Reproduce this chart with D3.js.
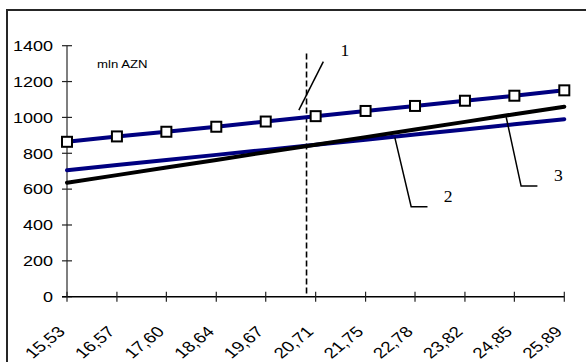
<!DOCTYPE html>
<html>
<head>
<meta charset="utf-8">
<script src="https://cdn.jsdelivr.net/npm/d3@7"></script>
<style>
  html, body { margin: 0; padding: 0; background: #fff; overflow: hidden; }
  svg { display: block; overflow: hidden; }
</style>
</head>
<body>
<div id="chart"></div>
<script>
// x categories (value + printed label)
const xValues = [15.53, 16.57, 17.60, 18.64, 19.67, 20.71, 21.75, 22.78, 23.82, 24.85, 25.89];
const xLabels = ["15,53", "16,57", "17,60", "18,64", "19,67", "20,71", "21,75", "22,78", "23,82", "24,85", "25,89"];
const yTicks = [0, 200, 400, 600, 800, 1000, 1200, 1400];

// series (mln AZN)
const line1 = [864, 894, 920, 948, 977, 1007, 1036, 1064, 1093, 1121, 1151]; // blue with squares
const line2 = [636, 678, 721, 763, 806, 848, 890, 933, 975, 1018, 1060];     // black
const line3 = [705, 734, 762, 791, 819, 848, 876, 905, 933, 962, 990];       // blue

const dashedAt = 20.52;
const dashedTop = 1357;

// callouts: label position and leader polyline, in data units
const callouts = [
  { text: "1", at: [21.32, 1372], path: [[20.87, 1311], [20.36, 1041]] },
  { text: "2", at: [23.47, 558], path: [[22.36, 887], [22.70, 502], [23.04, 502]] },
  { text: "3", at: [25.765, 679], path: [[24.68, 1001], [24.99, 617], [25.33, 617]] }
];

const width = 586, height = 362;
const sx = 1.2; // text in the picture is stretched sideways

const svg = d3.select("#chart").append("svg")
  .attr("width", width).attr("height", height);

// outer frame: left and top edges
svg.append("line")
  .attr("x1", 7).attr("x2", 7).attr("y1", 9).attr("y2", height)
  .attr("stroke", "#262626").attr("stroke-width", 2);
svg.append("line")
  .attr("x1", 6).attr("x2", width).attr("y1", 10).attr("y2", 10)
  .attr("stroke", "#262626").attr("stroke-width", 2);

const x = d3.scaleLinear().domain([15.53, 25.89]).range([67, 564.3]);
const y = d3.scaleLinear().domain([0, 1400]).range([296.7, 45.7]);

// y axis
const yAxis = svg.append("g");
yAxis.append("line")
  .attr("x1", x(15.53)).attr("x2", x(15.53))
  .attr("y1", y(1400)).attr("y2", y(0))
  .attr("stroke", "#555").attr("stroke-width", 1.5);
yAxis.selectAll("line.tick").data(yTicks).join("line")
  .attr("class", "tick")
  .attr("x1", x(15.53) - 5).attr("x2", x(15.53) + 5)
  .attr("y1", d => y(d)).attr("y2", d => y(d))
  .attr("stroke", "#222").attr("stroke-width", 1.2);
yAxis.selectAll("text").data(yTicks).join("text")
  .attr("transform", d => `translate(53,${y(d)}) scale(${sx},1)`)
  .attr("text-anchor", "end")
  .attr("dy", "0.35em")
  .style("font-family", "Liberation Sans, Arial, sans-serif")
  .style("font-size", "15px")
  .text(d => d);

// x axis
const xAxis = svg.append("g");
xAxis.append("line")
  .attr("x1", x(15.53) - 5).attr("x2", x(25.89))
  .attr("y1", y(0)).attr("y2", y(0))
  .attr("stroke", "#000").attr("stroke-width", 1.5);
xAxis.selectAll("line.tick").data(xValues).join("line")
  .attr("class", "tick")
  .attr("x1", d => x(d)).attr("x2", d => x(d))
  .attr("y1", y(0) - 5).attr("y2", y(0) + 5)
  .attr("stroke", "#222").attr("stroke-width", 1.2);
xAxis.selectAll("text").data(xValues).join("text")
  .attr("transform", d => `translate(${x(d) - 1},${y(0) + 36}) scale(1.25,1) rotate(-45)`)
  .attr("text-anchor", "end")
  .style("font-family", "Liberation Sans, Arial, sans-serif")
  .style("font-size", "15px")
  .text((d, i) => xLabels[i]);

// unit label
svg.append("text")
  .attr("transform", `translate(97,${y(1300) + 4}) scale(${sx},1)`)
  .style("font-family", "Liberation Sans, Arial, sans-serif")
  .style("font-size", "11px")
  .text("mln AZN");

// dashed vertical marker
svg.append("line")
  .attr("x1", x(dashedAt)).attr("x2", x(dashedAt))
  .attr("y1", y(dashedTop)).attr("y2", y(0))
  .attr("stroke", "#000").attr("stroke-width", 1.6)
  .attr("stroke-dasharray", "6,3");

const line = d3.line().x((d, i) => x(xValues[i])).y(d => y(d));

svg.append("path").datum(line3)
  .attr("d", line).attr("fill", "none")
  .attr("stroke", "#000080").attr("stroke-width", 4).attr("stroke-linecap", "round");
svg.append("path").datum(line2)
  .attr("d", line).attr("fill", "none")
  .attr("stroke", "#000").attr("stroke-width", 4).attr("stroke-linecap", "round");
svg.append("path").datum(line1)
  .attr("d", line).attr("fill", "none")
  .attr("stroke", "#000080").attr("stroke-width", 4).attr("stroke-linecap", "round");

svg.selectAll("rect.mark").data(line1).join("rect")
  .attr("class", "mark")
  .attr("x", (d, i) => x(xValues[i]) - 5)
  .attr("y", d => y(d) - 5)
  .attr("width", 10).attr("height", 10)
  .attr("fill", "#fff").attr("stroke", "#000").attr("stroke-width", 2);

// callouts
const leader = d3.line().x(d => x(d[0])).y(d => y(d[1]));
const cg = svg.append("g");
cg.selectAll("path").data(callouts).join("path")
  .attr("d", d => leader(d.path))
  .attr("fill", "none").attr("stroke", "#000").attr("stroke-width", 1.5);
cg.selectAll("text").data(callouts).join("text")
  .attr("transform", d => `translate(${x(d.at[0])},${y(d.at[1])}) scale(1.1,1)`)
  .attr("text-anchor", "middle")
  .attr("dy", "0.35em")
  .style("font-family", "Liberation Serif, Times New Roman, serif")
  .style("font-size", "16px")
  .text(d => d.text);
</script>
</body>
</html>
